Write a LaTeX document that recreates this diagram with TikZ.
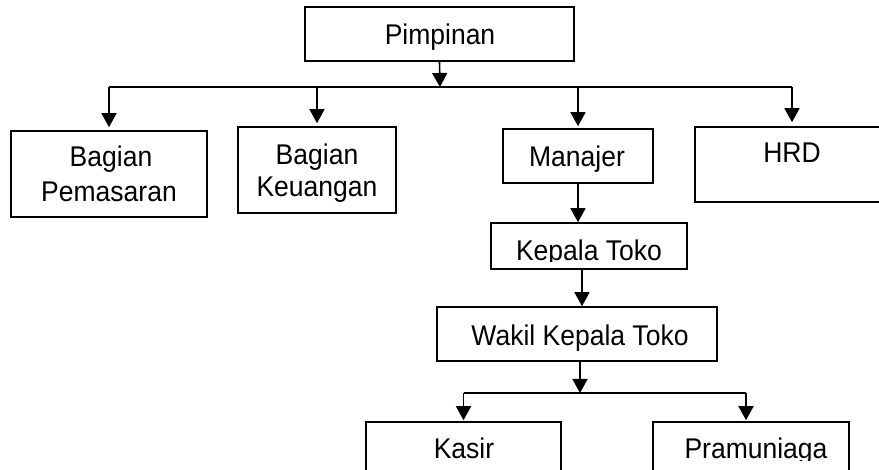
\documentclass[tikz,border=0pt]{standalone}
\usepackage{fontspec}
\setmainfont{Liberation Sans}[FakeStretch=0.93]
\usetikzlibrary{arrows.meta}
\newcommand\orgfs{\fontsize{28.5}{32}\selectfont}
\tikzset{
  box/.style={draw, line width=1.6pt, inner sep=0pt},
  ln/.style={line width=1.6pt},
  arr/.style={line width=1.6pt, -{Triangle[width=15pt,length=14pt]}},
  txt/.style={font=\orgfs, anchor=base, inner sep=0pt}
}
\begin{document}
\begin{tikzpicture}[x=1pt,y=-1pt]
\clip (0,0) rectangle (879,470);
\fill[white] (0,0) rectangle (879,470);
% boxes
\node[box, minimum width=269pt, minimum height=54pt] (pim) at (439.5,34) {};
\node[box, minimum width=196pt, minimum height=86pt] (pem) at (109,174) {};
\node[box, minimum width=158pt, minimum height=86pt] (keu) at (317,170) {};
\node[box, minimum width=150pt, minimum height=54pt] (man) at (578,156) {};
\node[box, minimum width=194pt, minimum height=75pt] (hrd) at (792,164.5) {};
\node[box, minimum width=196pt, minimum height=46pt] (kep) at (589,246) {};
\node[box, minimum width=280pt, minimum height=54pt] (wak) at (577,334) {};
\node[box, minimum width=195pt, minimum height=60pt] (kas) at (463.5,452) {};
\node[box, minimum width=196pt, minimum height=60pt] (pra) at (751,452) {};
% texts
\node[txt] (tpim) at (440,45) {Pimpinan};
\node[txt] (tpem1) at (111,167) {Bagian};
\node[txt] (tpem2) at (109,202) {Pemasaran};
\node[txt] (tkeu1) at (317,165) {Bagian};
\node[txt] (tkeu2) at (317,197) {Keuangan};
\node[txt] (tman) at (577,167) {Manajer};
\node[txt] (thrd) at (792,163) {HRD};
\begin{scope}
  \clip (491,223) rectangle (687,262);
  \node[txt] (tkep) at (589,261) {Kepala Toko};
\end{scope}
\node[txt] (twak) at (580,346) {Wakil Kepala Toko};
\node[txt] (tkas) at (464,458) {Kasir};
\begin{scope}
  \clip (653,422) rectangle (849,461);
  \node[txt] (tpra) at (756,458) {Pramuniaga};
\end{scope}
% connectors
\coordinate (bus1) at (440,87);
\draw[arr] (pim.south) -- (bus1);
\draw[ln] (pem.north |- bus1) -- (hrd.north |- bus1);
\draw[arr, shorten >=3pt] (pem.north |- bus1) -- (pem.north);
\draw[arr, shorten >=3pt] (keu.north |- bus1) -- (keu.north);
\draw[arr, shorten >=2pt] (man.north |- bus1) -- (man.north);
\draw[arr, shorten >=4pt] (hrd.north |- bus1) -- (hrd.north);
\draw[arr] (man.south) -- (man.south |- kep.north);
\draw[arr] ([xshift=-7pt]kep.south) -- ([xshift=-7pt]kep.south |- wak.north);
\coordinate (bus2) at (580,393);
\draw[arr] (wak.south -| bus2) -- (bus2);
\draw[ln] (kas.north |- bus2) -- ([xshift=-5pt]pra.north |- bus2);
\draw[arr, shorten >=1pt] (kas.north |- bus2) -- (kas.north);
\draw[arr, shorten >=1pt] ([xshift=-5pt]pra.north |- bus2) -- ([xshift=-5pt]pra.north);
\end{tikzpicture}
\end{document}
